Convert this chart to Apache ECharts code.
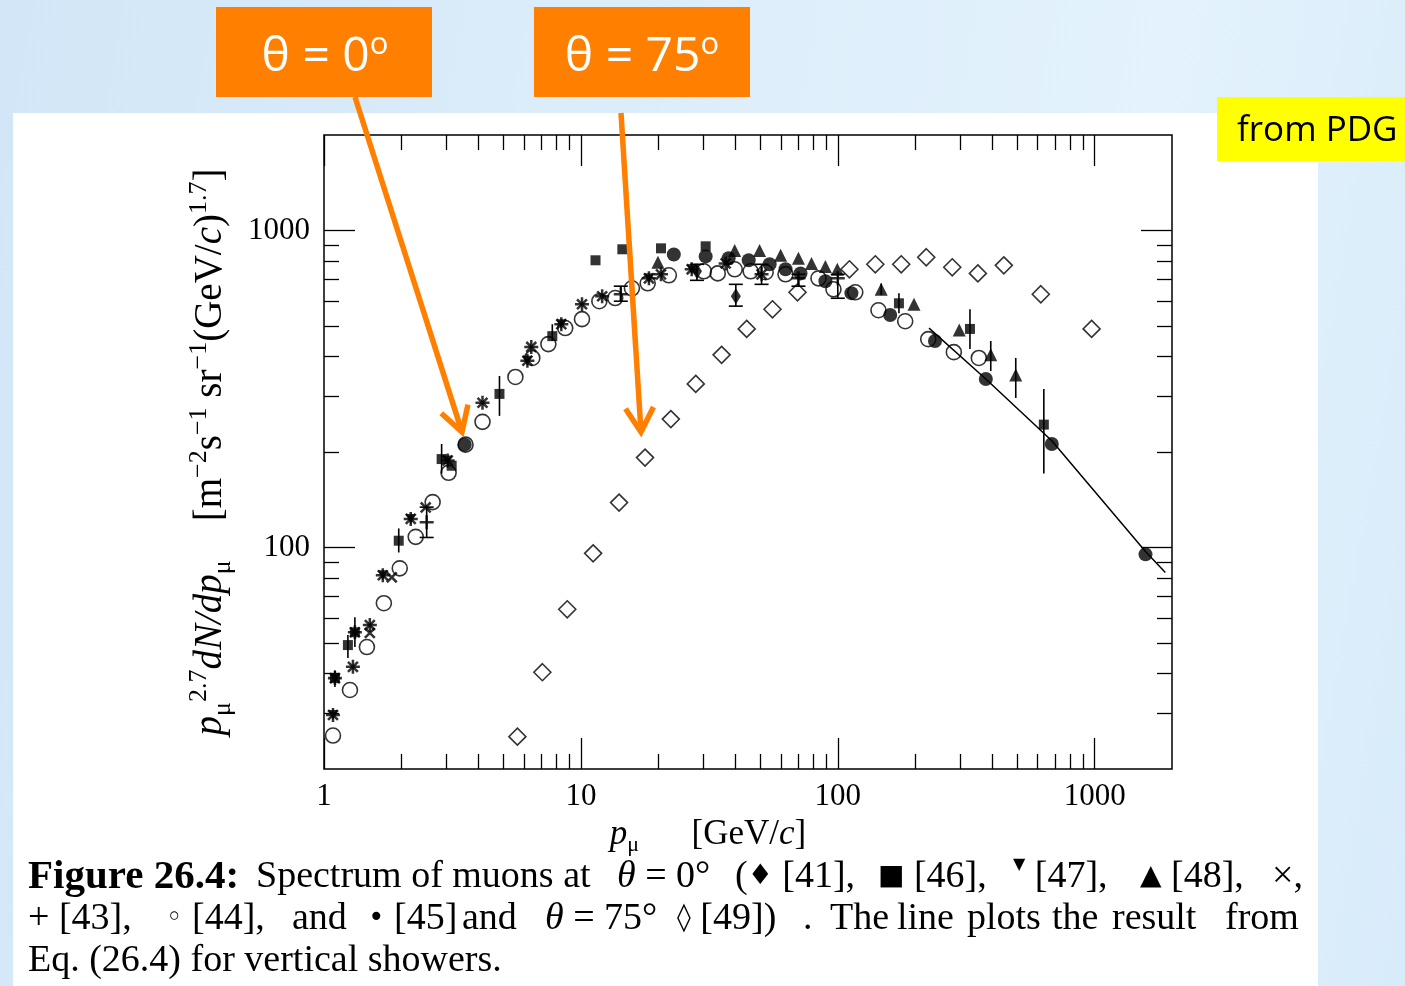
<!DOCTYPE html>
<html><head><meta charset="utf-8">
<script src="https://cdn.jsdelivr.net/npm/echarts@6/dist/echarts.min.js"></script>
<style>
html,body{margin:0;padding:0;width:1405px;height:986px;overflow:hidden;}
body{position:relative;background:linear-gradient(100deg,#d2e6f7 0%,#dcedfa 40%,#e3f2fc 75%,#d8ebfa 100%);}
#panel{position:absolute;left:13px;top:113px;width:1305px;height:873px;background:#fff;}
#chart{position:absolute;left:0;top:0;width:1405px;height:986px;}
</style></head><body>
<div id="panel"></div><div id="chart"></div>
<script>
// ---- axis ranges and ticks ----
const X_MIN = 1, X_MAX = 2000, Y_MIN = 20, Y_MAX = 2000;
const xTickMajor = [1, 10, 100, 1000];
const xTickMinor = [2,3,4,5,6,7,8,9,20,30,40,50,60,70,80,90,200,300,400,500,600,700,800,900];
const yTickMajor = [100, 1000];
const yTickMinor = [30,40,50,60,70,80,90,200,300,400,500,600,700,800,900];

// ---- data: [p (GeV/c), p^2.7 dN/dp] ----
const diamondFilled41 = [[28.3,743],[40.1,620]];
const square46 = [[1.103,38.7],[1.239,49.2],[1.319,54],[1.954,105],[2.87,190],[3.14,181],[4.82,305],[7.74,464],[11.4,805],[14.5,872],[20.5,878],[30.6,891],[173,589],[327,489],[634,244]];
const triDown47 = [[1.084,29.6],[1.103,38.7],[1.694,81.7],[2.176,123],[3.03,188],[6.19,388],[8.39,506],[18.4,706],[27.0,754]];
const tri48 = [[19.95,793],[39.7,865],[49.6,865],[59.9,835],[70.3,817],[79.0,787],[89.5,770],[99.6,754],[147.6,652],[198,585],[297,485],[394,405],[493,350]];
const cross42 = [[1.084,29.6],[1.103,38.7],[1.296,42.0],[1.319,54.0],[1.508,56.9],[1.508,53.7],[1.694,81.7],[1.836,80.5],[2.176,123],[2.488,133.7],[3.03,188],[4.14,286],[6.19,388],[6.41,429],[8.39,506],[10.1,585],[12.1,620],[18.4,706],[20.5,727],[27.0,754],[36.6,787],[50.5,727]];
const plus43 = [[1.084,29.6],[1.103,38.7],[1.296,42.0],[1.319,54.0],[1.508,56.9],[1.694,81.7],[2.176,123],[2.51,120],[3.03,188],[4.14,286],[6.19,388],[6.41,429],[8.39,506],[10.1,585],[12.1,620],[14.3,629],[18.4,706],[20.5,727],[27.0,754],[36.6,787],[50.5,727],[70.3,706],[100,706]];
const circleOpen44 = [[1.084,25.5],[1.262,35.5],[1.469,48.5],[1.710,66.7],[1.972,85.9],[2.275,108],[2.648,139],[3.055,172],[3.556,211],[4.14,249],[5.56,345],[6.47,396],[7.47,438],[8.69,492],[10.1,525],[11.8,598],[13.6,612],[15.8,657],[18.2,681],[22.0,722],[30.1,743],[34.1,732],[39.7,754],[45.8,743],[52.4,738],[62.6,727],[84.1,706],[96.2,652],[117,638],[144,560],[183,517],[225,454],[283,413],[354,396]];
const circleFilled45 = [[3.53,211],[23.0,840],[30.6,828],[37.6,817],[45.0,805],[54.3,782],[62.6,754],[71.6,732],[89.5,691],[113,634],[160,541],[239,448],[377,340],[681,212],[1577,95.1]];
const diamondOpen49 = [[5.66,25.3],[7.08,40.4],[8.85,63.8],[11.16,95.8],[14.08,138.5],[17.77,192],[22.4,254],[28.0,328],[35.3,405],[44.2,489],[55.7,564],[69.7,638],[111,754],[140,782],[176.6,782],[221,823],[279,765],[351,732],[443,776],[617,629],[973,489]];
const eqLine = [[226.6,492],[377,340],[681,217],[1577,97.1],[1884,83.4]];
// error bars: [p, low, high]
const errCapped = [[40.1,577,676],[28.3,696,782],[2.51,107.5,134],[14.3,598,667],[50.5,676,782],[70.3,667,727],[100,611,727]];
const errPlain = [[1.239,44.8,52.9],[1.319,48.5,60.2],[1.954,96.4,114.8],[1.103,36.3,41.0],[2.87,171,212],[4.82,260,347.5],[7.74,448,506],[147.6,625,680],[173,548,634],[327,423,564],[394,360,448],[493,296,396],[634,171,316]];

const SERIF = 'Liberation Serif';
const SANS = 'Open Sans';
const PLUS = 'path://M0,4.1H10V5.9H0ZM4.1,0H5.9V10H4.1Z';

function xAxisOf(pos, ticks, len, labels) {
  return {
    type: 'log', logBase: 10, min: X_MIN, max: X_MAX, position: pos, gridIndex: 0,
    axisLine: {show: false, onZero: false}, splitLine: {show: false},
    minorTick: {show: false}, minorSplitLine: {show: false},
    axisTick: {show: true, inside: true, length: len, customValues: ticks, lineStyle: {color: '#000', width: 1.3}},
    axisLabel: labels ? {show: true, customValues: ticks, margin: 12, color: '#000', fontFamily: SERIF, fontSize: 31,
      formatter: v => String(Math.round(v))} : {show: false},
    axisPointer: {show: false}
  };
}
function yAxisOf(pos, ticks, len, labels) {
  return {
    type: 'log', logBase: 10, min: Y_MIN, max: Y_MAX, position: pos, gridIndex: 0,
    axisLine: {show: false, onZero: false}, splitLine: {show: false},
    minorTick: {show: false}, minorSplitLine: {show: false},
    axisTick: {show: true, inside: true, length: len, customValues: ticks, lineStyle: {color: '#000', width: 1.3}},
    axisLabel: labels ? {show: true, customValues: ticks, margin: 14, color: '#000', fontFamily: SERIF, fontSize: 31,
      formatter: v => String(Math.round(v))} : {show: false}
  };
}

const xAxes = [xAxisOf('bottom', xTickMajor, 31, true), xAxisOf('top', xTickMajor, 31, false),
               xAxisOf('bottom', xTickMinor, 15, false), xAxisOf('top', xTickMinor, 15, false)];
xAxes[0].name = '{i|p}{sub|μ}      [GeV/{i|c}]';
xAxes[0].nameLocation = 'middle';
xAxes[0].nameGap = 37;
xAxes[0].nameTextStyle = {color: '#000', fontFamily: SERIF, fontSize: 35, padding: [0, 80, 0, 0],
  rich: {
    i: {fontFamily: SERIF, fontSize: 35, fontStyle: 'italic', lineHeight: 44},
    sub: {fontFamily: SERIF, fontSize: 22, verticalAlign: 'bottom', lineHeight: 22}
  }};
const yAxes = [yAxisOf('left', yTickMajor, 31, true), yAxisOf('right', yTickMajor, 31, false),
               yAxisOf('left', yTickMinor, 15, false), yAxisOf('right', yTickMinor, 15, false)];
yAxes[0].name = '{i|p}{sub|μ}{sup|2.7}{i|dN/dp}{sub|μ}{n|    [m}{sup|−2}{n|s}{sup|−1}{n| sr}{sup|−1}{n|(GeV/}{i|c}{n|)}{sup|1.7}{n|]}';
yAxes[0].nameLocation = 'middle';
yAxes[0].nameRotate = 90;
yAxes[0].nameGap = 88;
yAxes[0].nameTextStyle = {color: '#000', fontFamily: SERIF, fontSize: 39,
  rich: {
    n: {fontFamily: SERIF, fontSize: 39, lineHeight: 50},
    i: {fontFamily: SERIF, fontSize: 39, fontStyle: 'italic', lineHeight: 50},
    sub: {fontFamily: SERIF, fontSize: 26, verticalAlign: 'bottom', lineHeight: 26},
    sup: {fontFamily: SERIF, fontSize: 26, verticalAlign: 'top', lineHeight: 26}
  }};

const open = {color: 'rgba(0,0,0,0)', borderColor: '#000', borderWidth: 1.6};
const filled = {color: '#000'};
function sc(name, data, symbol, size, style, extra) {
  return Object.assign({type: 'scatter', name, data, symbol, symbolSize: size, itemStyle: style,
    silent: true, animation: false, xAxisIndex: 0, yAxisIndex: 0}, extra || {});
}
function errSeries(data, capped) {
  return {
    type: 'custom', data, silent: true, animation: false, xAxisIndex: 0, yAxisIndex: 0,
    encode: {x: 0, y: [1, 2]},
    renderItem: (params, api) => {
      const x = api.value(0);
      const a = api.coord([x, api.value(1)]);
      const b = api.coord([x, api.value(2)]);
      const st = {stroke: '#000', lineWidth: 1.6};
      const kids = [{type: 'line', shape: {x1: a[0], y1: a[1], x2: b[0], y2: b[1]}, style: st}];
      if (capped) {
        kids.push({type: 'line', shape: {x1: a[0]-7, y1: a[1], x2: a[0]+7, y2: a[1]}, style: st});
        kids.push({type: 'line', shape: {x1: b[0]-7, y1: b[1], x2: b[0]+7, y2: b[1]}, style: st});
      }
      return {type: 'group', children: kids};
    }
  };
}

// decorative arrows
function arrow(x0, y0, x1, y1) {
  const dx = x1 - x0, dy = y1 - y0, L = Math.hypot(dx, dy);
  const ux = -dx / L, uy = -dy / L, w = 28, c = Math.cos(Math.PI/6), s = Math.sin(Math.PI/6);
  const w1 = [x1 + w*(c*ux - s*uy), y1 + w*(s*ux + c*uy)];
  const w2 = [x1 + w*(c*ux + s*uy), y1 + w*(-s*ux + c*uy)];
  const st = {stroke: '#ff7f00', lineWidth: 5.5, fill: null, lineJoin: 'miter'};
  return [
    {type: 'line', z: 200, shape: {x1: x0, y1: y0, x2: x1 + 3*ux, y2: y1 + 3*uy}, style: st},
    {type: 'polyline', z: 200, shape: {points: [w1, [x1, y1], w2]}, style: st}
  ];
}

const boxRich = {
  m: {fontFamily: SANS, fontSize: 48, fontWeight: 'normal', fill: '#fff', color: '#fff', lineHeight: 54},
  o: {fontFamily: SANS, fontSize: 31, fontWeight: 'normal', fill: '#fff', color: '#fff', verticalAlign: 'top', lineHeight: 34}
};
const capRich = {
  n: {fontFamily: SERIF, fontSize: 38, lineHeight: 40},
  b: {fontFamily: SERIF, fontSize: 41, fontWeight: 'bold', lineHeight: 40},
  i: {fontFamily: SERIF, fontSize: 38, fontStyle: 'italic', lineHeight: 40},
  s: {fontFamily: 'DejaVu Sans', fontSize: 28, lineHeight: 40},
  t: {fontFamily: 'DejaVu Sans', fontSize: 16, verticalAlign: 'top', lineHeight: 16}
};
function cap(x, y, text) {
  return {type: 'text', x, y, z: 100, style: {text, fill: '#000', fontFamily: SERIF, fontSize: 38,
    align: 'left', verticalAlign: 'middle', rich: capRich}};
}
const L1 = 877, L2 = 919, L3 = 961;
const graphics = [
  {type: 'rect', z: 150, shape: {x: 216, y: 7, width: 216, height: 90}, style: {fill: '#ff7f00'}},
  {type: 'text', z: 151, x: 325, y: 57, style: {text: '{m|θ = 0}{o|o}', align: 'center', verticalAlign: 'middle', rich: boxRich}},
  {type: 'rect', z: 150, shape: {x: 534, y: 7, width: 216, height: 90}, style: {fill: '#ff7f00'}},
  {type: 'text', z: 151, x: 642, y: 57, style: {text: '{m|θ = 75}{o|o}', align: 'center', verticalAlign: 'middle', rich: boxRich}},
  {type: 'rect', z: 150, shape: {x: 1217, y: 97, width: 188, height: 64}, style: {fill: '#ffff00'}},
  {type: 'text', z: 151, x: 1237, y: 131, style: {text: 'from PDG', fill: '#000', fontFamily: SANS, fontSize: 35, align: 'left', verticalAlign: 'middle'}},
  ...arrow(355, 97, 462, 432),
  ...arrow(621, 113, 641, 432),
  cap(28, L1, '{b|Figure 26.4:}'),
  cap(256, L1, '{n|Spectrum of muons at}'),
  cap(617, L1, '{i|θ}{n| = 0°}'),
  cap(735, L1, '{n|(}{s|♦}{n| [41],}'),
  cap(878, L1, '{s|■}{n| [46],}'),
  cap(1013, L1, '{t|▼}{n| [47],}'),
  cap(1140, L1, '{s|▲}{n| [48],}'),
  cap(1272, L1, '{n|×,}'),
  cap(28, L2, '{n|+ [43],}'),
  cap(166, L2, '{s|◦}{n| [44],}'),
  cap(292, L2, '{n|and}'),
  cap(368, L2, '{s|•}{n| [45]}'),
  cap(462, L2, '{n|and}'),
  cap(545, L2, '{i|θ}{n| = 75°}'),
  cap(677, L2, '{s|◊}{n| [49])}'),
  cap(803, L2, '{n|.}'),
  cap(830, L2, '{n|The}'),
  cap(897, L2, '{n|line}'),
  cap(967, L2, '{n|plots}'),
  cap(1052, L2, '{n|the}'),
  cap(1112, L2, '{n|result}'),
  cap(1225, L2, '{n|from}'),
  cap(28, L3, '{n|Eq. (26.4) for vertical showers.}')
];

const chart = echarts.init(document.getElementById('chart'), null, {renderer: 'canvas'});
chart.setOption({
  animation: false,
  backgroundColor: 'transparent',
  textStyle: {fontFamily: SERIF},
  grid: {left: 324, top: 135, width: 848, height: 634, show: true, borderColor: '#000', borderWidth: 1.5,
    backgroundColor: 'transparent', containLabel: false, outerBoundsMode: 'none'},
  xAxis: xAxes,
  yAxis: yAxes,
  graphic: graphics,
  series: [
    errSeries(errPlain, false),
    errSeries(errCapped, true),
    {type: 'line', name: 'Eq. (26.4)', data: eqLine, symbol: 'none', silent: true, animation: false,
      lineStyle: {color: '#000', width: 1.5}, xAxisIndex: 0, yAxisIndex: 0},
    sc('[44]', circleOpen44, 'circle', 15, open),
    sc('[49]', diamondOpen49, 'diamond', 17, open),
    sc('[45]', circleFilled45, 'circle', 14, filled),
    sc('[46]', square46, 'rect', 10, filled),
    sc('[48]', tri48, 'triangle', 13, filled),
    sc('[47]', triDown47, 'triangle', 10, filled, {symbolRotate: 180}),
    sc('[42]', cross42, PLUS, 14, filled, {symbolRotate: 45}),
    sc('[43]', plus43, PLUS, 14, filled),
    sc('[41]', diamondFilled41, 'diamond', [10, 16], filled)
  ]
});
</script></body></html>
